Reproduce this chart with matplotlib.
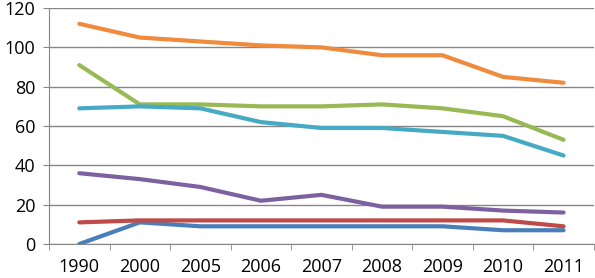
import matplotlib
matplotlib.use("Agg")
import matplotlib.pyplot as plt
import numpy as np

years = ["1990", "2000", "2005", "2006", "2007", "2008", "2009", "2010", "2011"]

blue = [0, 11, 9, 9, 9, 9, 9, 7, 7]
red = [11, 12, 12, 12, 12, 12, 12, 12, 9]
green = [91, 71, 71, 70, 70, 71, 69, 65, 53]
purple = [36, 33, 29, 22, 25, 19, 19, 17, 16]
teal = [69, 70, 69, 62, 59, 59, 57, 55, 45]
orange = [112, 105, 103, 101, 100, 96, 96, 85, 82]

series = [
    (blue, "#4A7EBB"),
    (red, "#BE4B48"),
    (green, "#98B954"),
    (purple, "#7D60A0"),
    (teal, "#46AAC5"),
    (orange, "#F08A3C"),
]

plt.rcParams['font.family'] = ['Open Sans', 'DejaVu Sans']

fig = plt.figure(figsize=(5.95, 2.78), dpi=100)
ax = fig.add_axes([0.0824, 0.1223, 0.9156, 0.8487])

x = np.arange(len(years))
for vals, col in series:
    ax.plot(x, vals, color=col, linewidth=3, solid_capstyle="round", solid_joinstyle="round")

ax.set_xlim(-0.5, len(years) - 0.5)
ax.set_ylim(0, 120)
ax.set_yticks(range(0, 121, 20))
ax.yaxis.grid(True, color="#868686", linewidth=1)
ax.set_axisbelow(True)

ax.set_xticks(x)
ax.set_xticklabels(years)
ax.set_xticks(np.arange(-0.5, len(years), 1), minor=True)
ax.tick_params(axis="x", which="major", length=0, pad=10, labelsize=13)
ax.tick_params(axis="x", which="minor", length=4, color="#868686", direction="out")
ax.tick_params(axis="y", length=4, color="#868686", pad=6, labelsize=13)

for side in ["top", "right"]:
    ax.spines[side].set_visible(False)
for side in ["left", "bottom"]:
    ax.spines[side].set_color("#868686")

fig.savefig("out.png", dpi=100)
